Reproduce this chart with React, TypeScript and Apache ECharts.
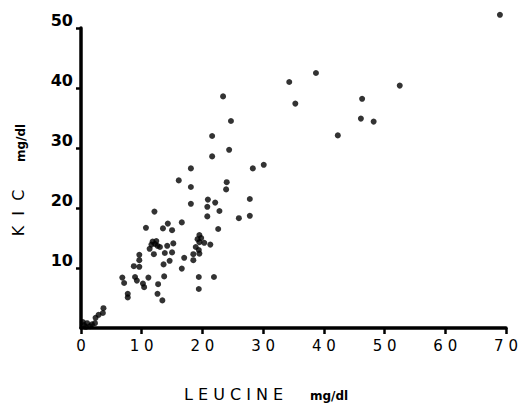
import React, { useEffect, useRef } from "react";
import * as echarts from "echarts";

const leucine: number[] = [
  69.0, 38.7, 34.3, 35.3, 52.5, 46.3, 46.1, 48.2, 42.3, 30.1,
  23.4, 24.7, 21.6, 24.4, 21.6, 18.1, 28.3, 16.1, 24.0, 18.1, 23.9, 20.9, 27.8,
  18.1, 22.1, 20.8, 22.8, 20.8, 27.8, 26.0, 12.1, 16.6, 10.7, 14.3, 13.5, 15.0, 22.6,
  19.5, 19.2, 19.8, 19.5, 20.3, 21.3, 18.9, 19.4, 18.5, 19.5, 17.0, 18.5, 16.6,
  11.8, 12.2, 12.6, 11.6, 12.4, 11.3, 12.0, 13.0, 14.2, 15.2, 13.8, 15.0, 14.6, 13.6,
  9.6, 9.6, 8.7, 9.6, 6.8, 7.1, 7.7, 7.7, 8.9, 9.2, 10.2, 10.4, 11.1, 13.7, 12.7, 12.6, 13.4,
  19.4, 21.9, 19.4,
  2.4, 2.3, 2.9, 3.7, 3.6, 0.5, 1.0, 1.5, 0.3, 1.8, 0.8,
];
const kic: number[] = [
  52.2, 42.5, 41.0, 37.4, 40.4, 38.2, 34.9, 34.4, 32.1, 27.2,
  38.6, 34.5, 32.0, 29.7, 28.6, 26.6, 26.6, 24.6, 24.3, 23.5, 23.1, 21.4, 21.5,
  20.7, 20.9, 20.2, 19.5, 18.6, 18.7, 18.3, 19.4, 17.6, 16.7, 17.4, 16.6, 16.3, 16.5,
  15.5, 14.8, 15.0, 14.3, 14.2, 13.9, 13.5, 13.0, 12.3, 12.4, 11.7, 11.3, 9.9,
  14.4, 14.0, 13.7, 13.9, 14.5, 13.2, 12.3, 13.5, 13.7, 14.1, 12.5, 12.6, 11.2, 10.6,
  12.2, 11.3, 10.3, 10.2, 8.4, 7.5, 5.7, 5.1, 8.5, 7.9, 7.4, 6.8, 8.4, 8.6, 7.3, 5.7, 4.6,
  8.5, 8.5, 6.5,
  1.7, 0.8, 2.2, 3.3, 2.5, 0.5, 0.8, 0.3, 1.0, 0.6, 0.2,
];

const xTitle = "L E U C I N E";
const xUnit = "mg/dl";
const yTitle = "K  I  C";
const yUnit = "mg/dl";

export default function App() {
  const ref = useRef<HTMLDivElement>(null);
  useEffect(() => {
    if (!ref.current) return;
    const chart = echarts.init(ref.current, undefined, { renderer: "svg" });
    const points = leucine.map((x, i) => [x, kic[i]]);
    chart.setOption({
      animation: false,
      backgroundColor: "#ffffff",
      grid: { left: 81, right: 17, top: 28, bottom: 76, containLabel: false },
      xAxis: {
        type: "value",
        min: 0,
        max: 70,
        interval: 10,
        splitLine: { show: false },
        axisLine: { show: true, onZero: false, lineStyle: { color: "#000", width: 3.5 } },
        axisTick: { show: true, length: 6, lineStyle: { color: "#000", width: 2.5 } },
        axisLabel: {
          margin: 10,
          color: "#000",
          fontFamily: "DejaVu Sans",
          fontSize: 15,
          formatter: (v: number) => String(v).split("").join(" "),
        },
      },
      yAxis: {
        type: "value",
        min: 0,
        max: 50,
        interval: 10,
        splitLine: { show: false },
        axisLine: { show: true, onZero: false, lineStyle: { color: "#000", width: 3.5 } },
        axisTick: { show: true, length: 5, lineStyle: { color: "#000", width: 2.5 } },
        axisLabel: {
          showMinLabel: false,
          margin: 8,
          color: "#000",
          fontFamily: "DejaVu Sans",
          fontWeight: "bold",
          fontSize: 16,
          verticalAlign: "bottom",
          lineHeight: 16,
        },
      },
      graphic: [
        {
          type: "text",
          x: 184,
          y: 394,
          style: {
            text: xTitle,
            fill: "#000",
            font: "16px 'DejaVu Sans'",
            verticalAlign: "middle",
            align: "left",
          },
        },
        {
          type: "text",
          x: 310,
          y: 396,
          style: {
            text: xUnit,
            fill: "#000",
            font: "bold 12px 'DejaVu Sans'",
            verticalAlign: "middle",
            align: "left",
          },
        },
        {
          type: "text",
          x: 18,
          y: 213,
          rotation: Math.PI / 2,
          style: {
            text: yTitle,
            fill: "#000",
            font: "16px 'DejaVu Sans'",
            verticalAlign: "middle",
            align: "center",
          },
        },
        {
          type: "text",
          x: 21,
          y: 143,
          rotation: Math.PI / 2,
          style: {
            text: yUnit,
            fill: "#000",
            font: "bold 12px 'DejaVu Sans'",
            verticalAlign: "middle",
            align: "center",
          },
        },
      ],
      series: [
        {
          type: "scatter",
          data: points,
          symbol: "circle",
          symbolSize: 6,
          clip: false,
          itemStyle: { color: "#000" },
        },
      ],
    });
    return () => chart.dispose();
  }, []);
  return (
    <div
      ref={ref}
      style={{ position: "fixed", left: 0, top: 0, width: 523, height: 404, background: "#fff" }}
    />
  );
}
